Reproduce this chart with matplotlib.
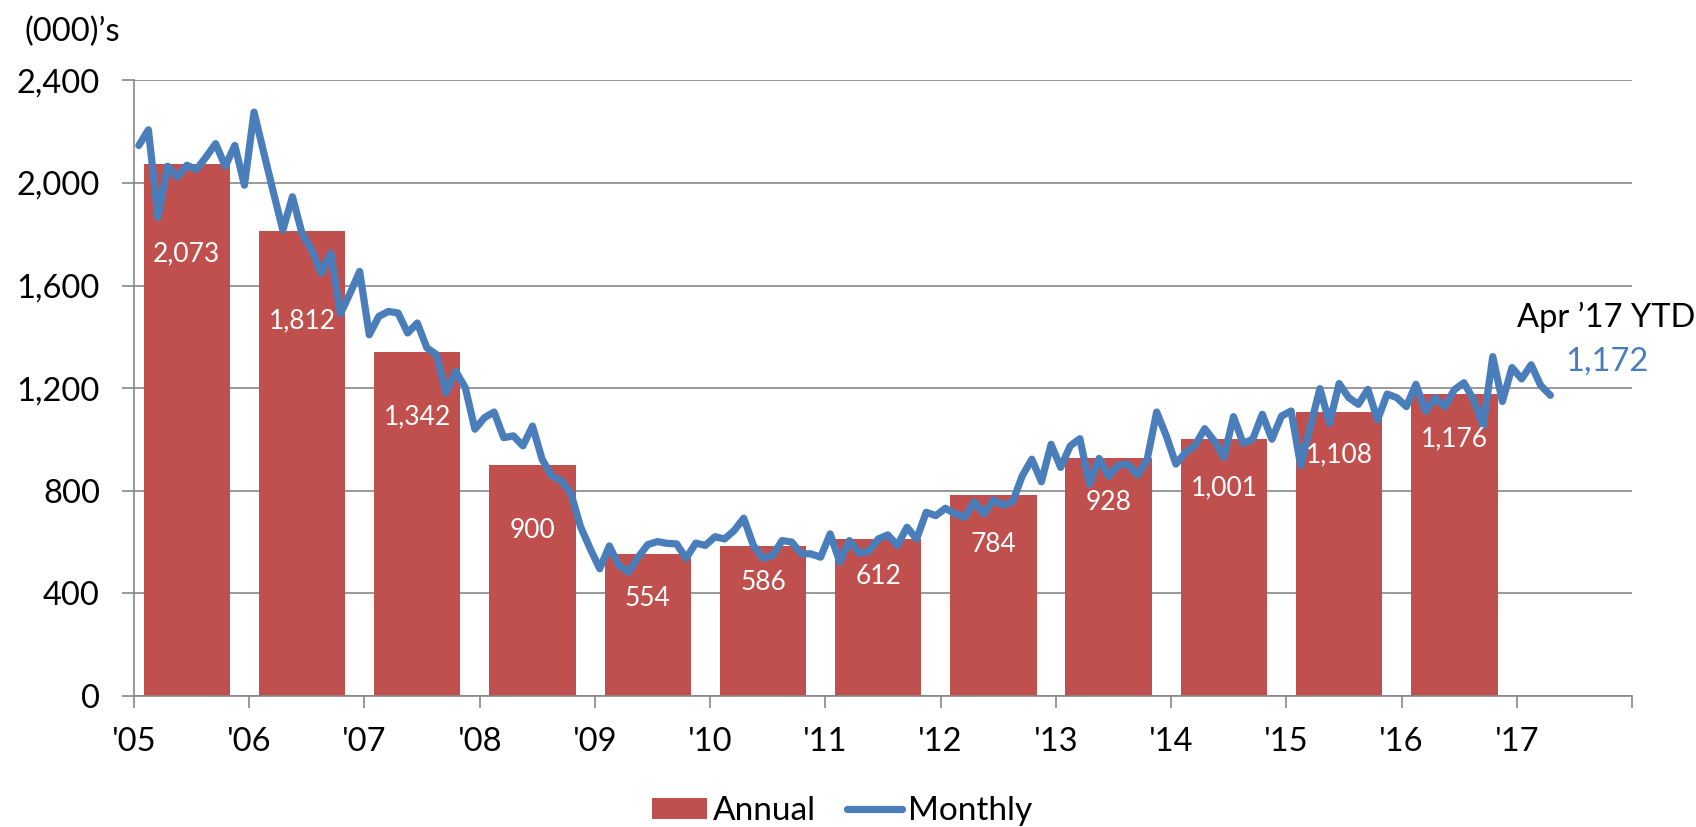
import matplotlib
matplotlib.use("Agg")
import matplotlib.pyplot as plt
from matplotlib.lines import Line2D
from matplotlib.patches import Patch

# ---------------- data ----------------
years = list(range(2005, 2017))
annual = [2073, 1812, 1342, 900, 554, 586, 612, 784, 928, 1001, 1108, 1176]

monthly_2005 = [2146, 2207, 1866, 2065, 2023, 2069, 2052, 2101, 2153, 2065, 2146, 1991]
monthly_2006 = [2276, 2120, 1966, 1816, 1946, 1803, 1739, 1648, 1726, 1490, 1570, 1655]
monthly_2007 = [1408, 1480, 1499, 1493, 1415, 1454, 1357, 1331, 1182, 1266, 1202, 1040]
monthly_2008 = [1085, 1107, 1007, 1014, 975, 1052, 923, 858, 839, 790, 660, 575]
monthly_2009 = [496, 585, 509, 483, 541, 590, 602, 595, 593, 537, 596, 587]
monthly_2010 = [621, 612, 645, 693, 587, 537, 548, 606, 600, 554, 554, 541]
monthly_2011 = [632, 522, 606, 558, 563, 612, 628, 587, 658, 612, 716, 703]
monthly_2012 = [732, 710, 697, 757, 710, 764, 744, 757, 858, 923, 835, 981]
monthly_2013 = [891, 975, 1003, 826, 926, 856, 900, 904, 861, 920, 1107, 1014]
monthly_2014 = [904, 949, 977, 1042, 994, 930, 1089, 985, 1001, 1098, 1001, 1091]
monthly_2015 = [1111, 897, 1050, 1198, 1063, 1218, 1163, 1137, 1195, 1076, 1177, 1163]
monthly_2016 = [1128, 1215, 1110, 1162, 1128, 1194, 1221, 1155, 1054, 1323, 1148, 1280]
monthly_2017 = [1236, 1291, 1210, 1172]

monthly_by_year = {
    2005: monthly_2005, 2006: monthly_2006, 2007: monthly_2007, 2008: monthly_2008,
    2009: monthly_2009, 2010: monthly_2010, 2011: monthly_2011, 2012: monthly_2012,
    2013: monthly_2013, 2014: monthly_2014, 2015: monthly_2015, 2016: monthly_2016,
    2017: monthly_2017,
}

tick_years = list(range(2005, 2019))
tick_labels = ["'05", "'06", "'07", "'08", "'09", "'10", "'11", "'12",
               "'13", "'14", "'15", "'16", "'17", ""]
y_ticks = [0, 400, 800, 1200, 1600, 2000, 2400]
unit_label = "(000)’s"
ytd_label = "Apr ’17 YTD"
ytd_value = 1172
legend_labels = ["Annual", "Monthly"]

# ---------------- layout / style ----------------
W, H = 1696, 827
bar_color = "#C0504D"
line_color = "#4A7EBB"
grid_color = "#878787"
label_drop_px = [90, 90, 65, 65, 45, 37, 38, 50, 45, 49, 43, 45]
line_w = 5.2

plt.rcParams['font.family'] = ['Lato', 'DejaVu Sans']

fig = plt.figure(figsize=(W / 100, H / 100), dpi=100)
left, right, top, bottom = 134, 1632, 80.3, 696
ax = fig.add_axes([left / W, 1 - bottom / H, (right - left) / W, (bottom - top) / H])

# bars (centred in mid-June of each year, 9 months wide)
bar_x = [y + 5.5 / 12 for y in years]
ax.bar(bar_x, annual, width=0.75, color=bar_color, zorder=2)

for x, v, d in zip(bar_x, annual, label_drop_px):
    ax.annotate(f"{v:,}", xy=(x, v), xytext=(0, -d * 0.72), textcoords="offset points",
                ha="center", va="center", color="white", fontsize=19, zorder=4)

# monthly line
mx, my = [], []
for yr, vals in monthly_by_year.items():
    for m, v in enumerate(vals):
        mx.append(yr + (m + 0.5) / 12)
        my.append(v)
ax.plot(mx, my, color=line_color, lw=line_w, solid_joinstyle="round",
        solid_capstyle="round", zorder=3)

# annotation at the end
ax.annotate(f"{ytd_value:,}", xy=(mx[-1], my[-1]), xytext=(11, 24.5),
            textcoords="offset points", ha="left", va="center",
            color=line_color, fontsize=23.5, annotation_clip=False)
ax.annotate(ytd_label, xy=(mx[-1], my[-1]), xytext=(-24, 56),
            textcoords="offset points", ha="left", va="center",
            color="black", fontsize=23.5, annotation_clip=False)

# axes
ax.set_xlim(2005, 2018)
ax.set_ylim(0, 2400)
ax.set_xticks(tick_years)
ax.set_xticklabels(tick_labels)
ax.set_yticks(y_ticks)
ax.set_yticklabels([f"{v:,}" for v in y_ticks])
ax.set_axisbelow(True)
ax.yaxis.grid(True, color=grid_color, lw=1.2)
for s in ["top", "right"]:
    ax.spines[s].set_visible(False)
for s in ["left", "bottom"]:
    ax.spines[s].set_color(grid_color)
    ax.spines[s].set_linewidth(1.2)
ax.tick_params(axis="both", colors=grid_color, width=1.2, length=8.5,
               labelcolor="black", labelsize=23.5)
ax.tick_params(axis="y", pad=16)
ax.tick_params(axis="x", pad=14)

fig.text(25 / W, 1 - 32 / H, unit_label, ha="left", va="center", fontsize=23.5)

handles = [Patch(facecolor=bar_color, edgecolor="none"),
           Line2D([], [], color=line_color, lw=line_w, solid_capstyle="round")]
fig.legend(handles, legend_labels, loc="center", bbox_to_anchor=(0.4965, 0.019),
           ncol=2, frameon=False, fontsize=24, handlelength=1.65, handleheight=0.6,
           handletextpad=0.2, columnspacing=0.9, borderpad=0)

fig.savefig("out.png", dpi=100)
